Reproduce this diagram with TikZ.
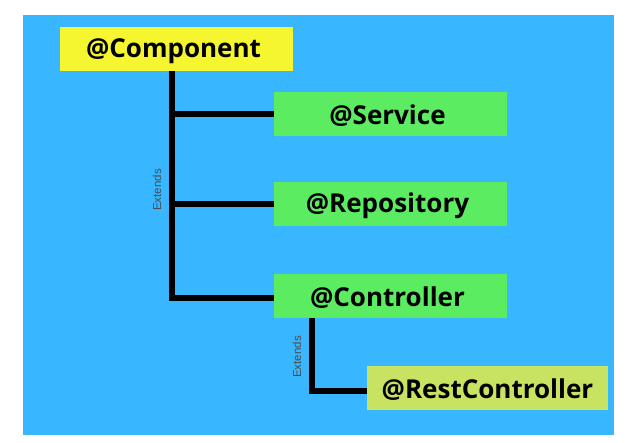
\documentclass[tikz,border=0pt]{standalone}
\usepackage{fontspec}
\setmainfont{Open Sans}
\newfontfamily\lblfont{Liberation Sans}
\definecolor{bgblue}{HTML}{38B6FF}
\definecolor{ylw}{HTML}{F5F530}
\definecolor{grn}{HTML}{5CEC62}
\definecolor{lime}{HTML}{C8E261}
\begin{document}
\begin{tikzpicture}[x=1pt,y=-1pt,
  box/.style={minimum height=44pt,inner sep=0pt,text=black},
  lbl/.style={inner sep=0pt,font=\fontsize{26}{26}\selectfont\bfseries,text=black},
  conn/.style={line width=6pt,black},
  ext/.style={font=\lblfont\fontsize{11.5}{11.5}\selectfont,text=black!70,rotate=90}]
\useasboundingbox (0,0) rectangle (630,443);
\fill[white] (0,0) rectangle (630,443);
\fill[bgblue] (23,15) rectangle (614,435);
\node[box,fill=ylw,minimum width=233pt] (comp) at (176.5,49) {};
\node[box,fill=grn,minimum width=233pt] (serv) at (390.5,114) {};
\node[box,fill=grn,minimum width=233pt] (repo) at (390.5,204) {};
\node[box,fill=grn,minimum width=233pt] (ctrl) at (390.5,296) {};
\node[box,fill=lime,minimum width=241pt] (rest) at (487.5,388) {};
\node[lbl] (tcomp) at ([xshift=-3pt,yshift=-2pt]comp.center) {@Component};
\node[lbl] (tserv) at ([xshift=-3pt,yshift=-2pt]serv.center) {@Service};
\node[lbl] (trepo) at ([xshift=-3pt,yshift=-2pt]repo.center) {@Repository};
\node[lbl] (tctrl) at ([xshift=-3pt,yshift=-2pt]ctrl.center) {@Controller};
\node[lbl] (trest) at ([yshift=-2pt]rest.center) {@RestController};
\coordinate (c1) at (172,298);
\coordinate (c2) at (312,391);
\draw[conn] (comp.south -| c1) -- (c1) -- (c1 -| ctrl.west);
\draw[conn] (c1 |- serv.west) -- (serv.west);
\draw[conn] (c1 |- repo.west) -- (repo.west);
\draw[conn] (ctrl.south -| c2) -- (c2) -- (c2 -| rest.west);
\node[ext] (e1) at (157,190) {Extends};
\node[ext] (e2) at (297,357) {Extends};
\end{tikzpicture}
\end{document}
